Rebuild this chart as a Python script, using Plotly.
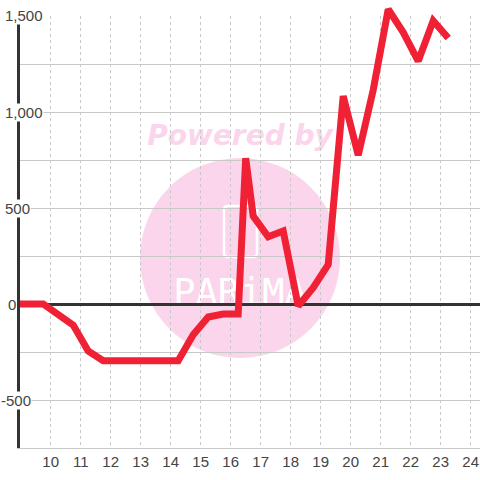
import plotly.graph_objects as go

x_values = [8.88, 9.25, 9.75, 10.75, 11.25, 11.75, 12.25, 12.75, 13.25, 13.75, 14.25, 14.75, 15.25, 15.75, 16.25,
            16.5, 16.75, 17.25, 17.75, 18.25, 18.75, 19.25, 19.75, 20.25, 20.75, 21.25, 21.75, 22.25, 22.75, 23.25]
y_values = [0, 0, 0, -110, -245, -295, -295, -295, -295, -295, -295, -160, -68, -52, -52,
            760, 458, 350, 380, -10, 85, 205, 1083, 775, 1115, 1535, 1415, 1265, 1475, 1385]
x_ticks = list(range(10, 25))
y_grid = [-750, -500, -250, 0, 250, 500, 750, 1000, 1250, 1500]
y_labels = [1500, 1000, 500, 0, -500]
y_label_text = ["1,500", "1,000", "500", "0", "-500"]

W, H = 480, 480
L, R, T, B = 20, 0, 0, 32
PLOT_TOP = 16
PW, PH = W - L - R, H - T - B
def px(v): return (v - L) / PW
def py(v): return 1 - (v - T) / PH

PINK = "#fbd5ec"
FONT = "Liberation Sans"
X_RANGE = [8.977, 24.31]
shapes = [
    dict(type="circle", xref="paper", yref="paper", layer="below", x0=px(140), x1=px(340), y0=py(358), y1=py(158),
         fillcolor=PINK, line=dict(width=0)),
    dict(type="rect", xref="paper", yref="paper", layer="below", x0=px(140), x1=px(340), y0=py(148), y1=py(118),
         line=dict(width=0), fillcolor="rgba(0,0,0,0)",
         label=dict(text="<b><i>Powered by</i></b>", font=dict(family="DejaVu Sans", size=28, color=PINK),
                    textposition="middle center")),
    dict(type="path", xref="paper", yref="paper", layer="below",
         path=f"M {px(228)} {py(206)} L {px(253)} {py(206)} Q {px(257)} {py(206)} {px(257)} {py(210)} "
              f"L {px(257)} {py(253)} Q {px(257)} {py(257)} {px(253)} {py(257)} "
              f"L {px(228)} {py(257)} Q {px(224)} {py(257)} {px(224)} {py(253)} "
              f"L {px(224)} {py(210)} Q {px(224)} {py(206)} {px(228)} {py(206)} Z",
         line=dict(color="white", width=2.5), fillcolor="rgba(0,0,0,0)"),
    dict(type="rect", xref="paper", yref="paper", layer="below", x0=px(160), x1=px(320), y0=py(310), y1=py(268),
         line=dict(width=0), fillcolor="rgba(0,0,0,0)",
         label=dict(text="PARiMA", font=dict(family="DejaVu Sans Mono", size=37, color="white"),
                    textposition="middle center")),
]

fig = go.Figure(go.Scatter(
    x=x_values, y=y_values, mode="lines", cliponaxis=False, xaxis="x2", yaxis="y2",
    line=dict(color="#f02035", width=7, shape="linear"), hoverinfo="skip",
))

annotations = [
    dict(x=0, xref="paper", y=v, yref="y", text=t, showarrow=False, xanchor="right",
         xshift=xs, font=dict(family=FONT, size=15, color="#444"), bgcolor="white", borderpad=0)
    for v, t, xs in zip(y_labels, y_label_text, [24, 24, 11, -3, 12])
]

# y value at the top of the page, so the overlay line is not cut off above the plot area
y_top = 1500 + PLOT_TOP * 2250 / (H - B - PLOT_TOP)

fig.update_layout(
    width=W, height=H, autosize=False,
    margin=dict(l=L, r=R, t=T, b=B, pad=0),
    paper_bgcolor="white", plot_bgcolor="rgba(0,0,0,0)",
    showlegend=False, shapes=shapes, annotations=annotations,
    font=dict(family=FONT, size=15, color="#444"),
    xaxis=dict(range=X_RANGE, tickmode="array", tickvals=x_ticks, ticktext=[str(v) for v in x_ticks],
               showgrid=True, gridcolor="#c8c8c8", griddash="dot", gridwidth=1, zeroline=False,
               showline=True, linecolor="#c8c8c8", linewidth=1, ticks="", fixedrange=True),
    yaxis=dict(range=[-750, 1500], domain=[0, (H - B - PLOT_TOP) / (H - B)], tickmode="array", tickvals=y_grid,
               showticklabels=False, showgrid=True, gridcolor="#c8c8c8", gridwidth=1, zeroline=True,
               zerolinecolor="#333", zerolinewidth=3, showline=True, linecolor="#333", linewidth=3,
               ticks="", fixedrange=True),
    xaxis2=dict(range=X_RANGE, anchor="y2", visible=False, fixedrange=True),
    yaxis2=dict(range=[-750, y_top], anchor="x2", domain=[0, 1], visible=False, fixedrange=True),
)
fig.write_html("out.html", config=dict(displayModeBar=False),
               post_script="document.body.style.margin='0';")
